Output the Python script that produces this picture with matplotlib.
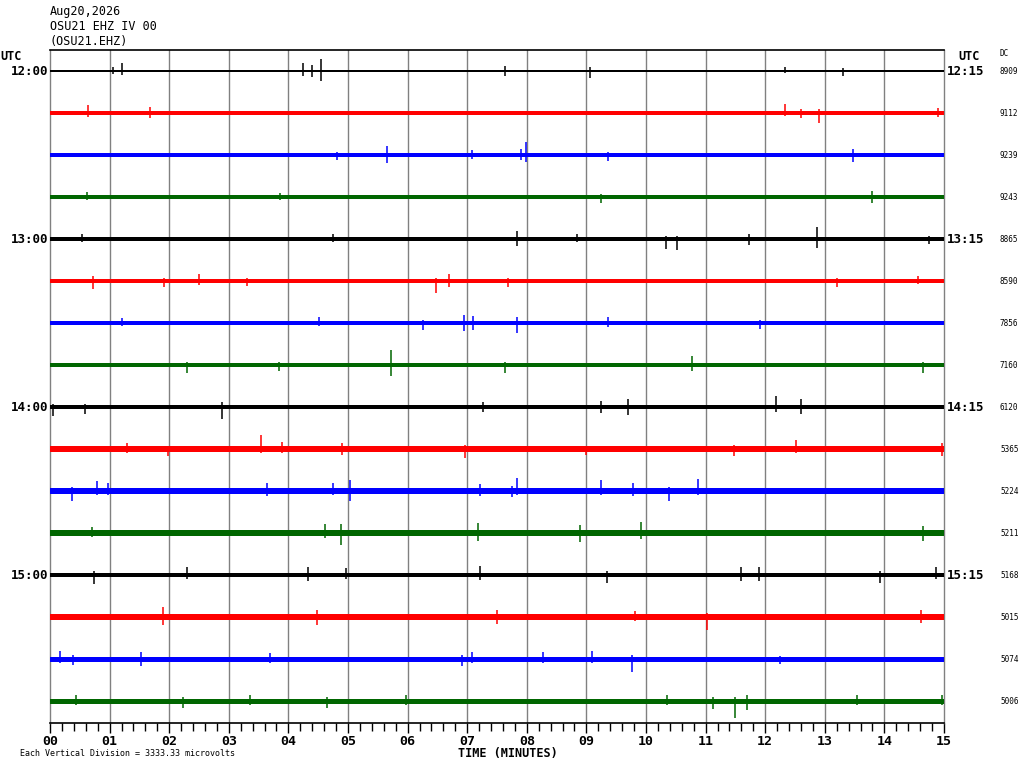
import matplotlib
matplotlib.use("Agg")
import matplotlib.pyplot as plt
from matplotlib.ticker import MultipleLocator

# ---------------- data ----------------
date_label = "Aug20,2026"
station_label = "OSU21 EHZ IV 00"
channel_label = "(OSU21.EHZ)"
uv_per_division = 3333.33
minute_ticks = list(range(16))
minute_labels = [f"{m:02d}" for m in minute_ticks]
left_times = ["12:00", "13:00", "14:00", "15:00"]
right_times = ["12:15", "13:15", "14:15", "15:15"]
dc_values = [8909, 9112, 9239, 9243, 8865, 8590, 7856, 7160,
             6120, 5365, 5224, 5211, 5168, 5015, 5074, 5006]
trace_colors = ["black", "red", "blue", "#006600"]

# background noise half-amplitude of each 15-minute line (microvolts)
noise_uv = [100, 130, 130, 160, 150, 180, 160, 180,
            180, 210, 210, 210, 180, 230, 190, 190]

# notable excursions per line: (minute, up microvolts, down microvolts)
events_uv = [
    [(1.05, 320, 240), (1.21, 640, 320), (4.25, 640, 400), (4.40, 480, 480), (4.55, 960, 800),
     (7.63, 400, 400), (9.06, 320, 560), (12.33, 320, 160), (13.30, 240, 400)],
    [(0.64, 640, 320), (1.68, 480, 400), (12.33, 720, 240), (12.60, 320, 400), (12.90, 320, 800),
     (14.90, 400, 320)],
    [(4.82, 240, 400), (5.65, 720, 640), (7.08, 400, 320), (7.90, 480, 400), (7.99, 1040, 560),
     (9.36, 240, 480), (13.47, 480, 560)],
    [(0.62, 400, 240), (3.86, 320, 240), (9.24, 240, 480), (13.80, 480, 480)],
    [(0.53, 400, 240), (4.75, 400, 240), (7.84, 640, 560), (8.85, 400, 240), (10.34, 240, 800),
     (10.52, 240, 880), (11.73, 400, 480), (12.87, 960, 720), (14.74, 240, 400)],
    [(0.72, 400, 640), (1.91, 240, 480), (2.50, 560, 320), (3.30, 240, 400), (6.48, 240, 960),
     (6.70, 560, 480), (7.68, 240, 480), (13.20, 240, 480), (14.57, 400, 240)],
    [(1.21, 400, 240), (4.51, 480, 240), (6.26, 240, 560), (6.95, 640, 640), (7.10, 560, 560),
     (7.84, 480, 800), (9.36, 480, 320), (11.91, 240, 480)],
    [(2.30, 240, 640), (3.84, 240, 480), (5.72, 1200, 880), (7.63, 240, 640), (10.77, 720, 480),
     (14.64, 240, 640)],
    [(0.05, 240, 720), (0.59, 240, 560), (2.89, 400, 960), (7.27, 400, 400), (9.24, 480, 480),
     (9.70, 640, 640), (12.18, 880, 400), (12.60, 640, 560)],
    [(1.29, 480, 320), (1.98, 240, 560), (3.54, 1120, 320), (3.90, 560, 320), (4.90, 480, 480),
     (6.96, 320, 720), (9.00, 240, 480), (11.48, 320, 560), (12.52, 720, 320), (14.97, 480, 560)],
    [(0.37, 320, 800), (0.79, 800, 320), (0.98, 640, 320), (3.64, 640, 400), (4.75, 640, 320),
     (5.03, 880, 800), (7.21, 560, 400), (7.75, 400, 480), (7.84, 1040, 320), (9.24, 880, 320),
     (9.78, 640, 400), (10.39, 320, 800), (10.87, 960, 320)],
    [(0.70, 480, 320), (4.61, 720, 400), (4.88, 720, 960), (7.18, 800, 640), (8.89, 640, 720),
     (9.91, 880, 480), (14.64, 560, 640)],
    [(0.74, 320, 720), (2.30, 640, 320), (4.33, 640, 480), (4.97, 560, 320), (7.22, 720, 400),
     (9.35, 320, 640), (11.60, 640, 480), (11.90, 640, 480), (13.93, 320, 640), (14.87, 640, 320)],
    [(1.90, 800, 640), (4.48, 560, 640), (7.50, 560, 560), (9.81, 480, 320), (11.03, 320, 1040),
     (14.61, 560, 480)],
    [(0.17, 640, 320), (0.39, 320, 480), (1.53, 560, 560), (3.69, 480, 320), (6.91, 320, 560),
     (7.08, 560, 320), (8.27, 560, 320), (9.09, 640, 320), (9.77, 320, 1040), (12.25, 240, 400)],
    [(0.44, 480, 320), (2.23, 320, 560), (3.36, 480, 320), (4.65, 320, 560), (5.97, 480, 320),
     (10.35, 480, 320), (11.13, 320, 640), (11.49, 320, 1360), (11.69, 480, 720), (13.54, 480, 320),
     (14.97, 480, 320)],
]

# ---------------- figure ----------------
W, H = 1024, 768
fig = plt.figure(figsize=(W / 100, H / 100), dpi=100)
fig.patch.set_facecolor("white")


def fx(x):
    return x / W


def fy(y):
    return 1 - y / H


ax = fig.add_axes([fx(50), 1 - 723 / H, 894 / W, 673 / H])
n_lines = len(noise_uv)
ax.set_xlim(0, 15)
ax.set_ylim(-(n_lines - 1) - 0.52, 0.5)

MONO = "DejaVu Sans Mono"

for i in range(n_lines):
    color = trace_colors[i % 4]
    base = -i
    a = noise_uv[i] / uv_per_division
    ax.fill_between([0, 15], [base - a, base - a], [base + a, base + a],
                    color=color, linewidth=0, zorder=3)
    for (t, up, down) in events_uv[i]:
        ax.vlines(t, base - down / uv_per_division, base + up / uv_per_division,
                  color=color, linewidth=1.1, zorder=3)

# minute grid
for m in minute_ticks[1:-1]:
    ax.axvline(m, color="#808080", linewidth=1.0, zorder=2)

for side in ("left", "right"):
    ax.spines[side].set_color("#808080")
    ax.spines[side].set_linewidth(1.0)
for side in ("top", "bottom"):
    ax.spines[side].set_color("black")
    ax.spines[side].set_linewidth(1.2)

ax.set_yticks([])
ax.set_xticks(minute_ticks)
ax.set_xticklabels(minute_labels, fontfamily=MONO, fontweight="bold", fontsize=9.5)
ax.xaxis.set_minor_locator(MultipleLocator(0.2))
ax.tick_params(axis="x", which="major", direction="out", length=7, width=1, pad=1.5, colors="black")
ax.tick_params(axis="x", which="minor", direction="out", length=6, width=1)

# header
fig.text(fx(50), fy(12), date_label, fontfamily=MONO, fontsize=8.5, va="center", ha="left")
fig.text(fx(50), fy(27), station_label, fontfamily=MONO, fontsize=8.5, va="center", ha="left")
fig.text(fx(50), fy(42), channel_label, fontfamily=MONO, fontsize=8.5, va="center", ha="left")

# UTC labels
fig.text(fx(0), fy(57), "UTC", fontfamily=MONO, fontweight="bold", fontsize=8.5, va="center", ha="left")
fig.text(fx(958), fy(57), "UTC", fontfamily=MONO, fontweight="bold", fontsize=8.5, va="center", ha="left")
fig.text(fx(1000), fy(53), "DC", fontfamily=MONO, fontsize=5.5, va="center", ha="left")

for k, (lt, rt) in enumerate(zip(left_times, right_times)):
    yline = -4 * k
    ax.text(-0.002, yline, lt, transform=ax.get_yaxis_transform(), fontfamily=MONO,
            fontweight="bold", fontsize=9, va="center", ha="right")
    ax.text(1.003, yline, rt, transform=ax.get_yaxis_transform(), fontfamily=MONO,
            fontweight="bold", fontsize=9, va="center", ha="left")

dc_x = (1000 - 50) / 894
for i, dc in enumerate(dc_values):
    ax.text(dc_x, -i, str(dc), transform=ax.get_yaxis_transform(),
            fontfamily=MONO, fontsize=5.5, va="center", ha="left")

fig.text(fx(508), fy(753), "TIME (MINUTES)", fontfamily=MONO, fontweight="bold", fontsize=8.5,
         va="center", ha="center")
fig.text(fx(20), fy(754), f"Each Vertical Division = {uv_per_division:.2f} microvolts",
         fontfamily=MONO, fontsize=6, va="center", ha="left")

fig.savefig("out.png", dpi=100, facecolor="white")
